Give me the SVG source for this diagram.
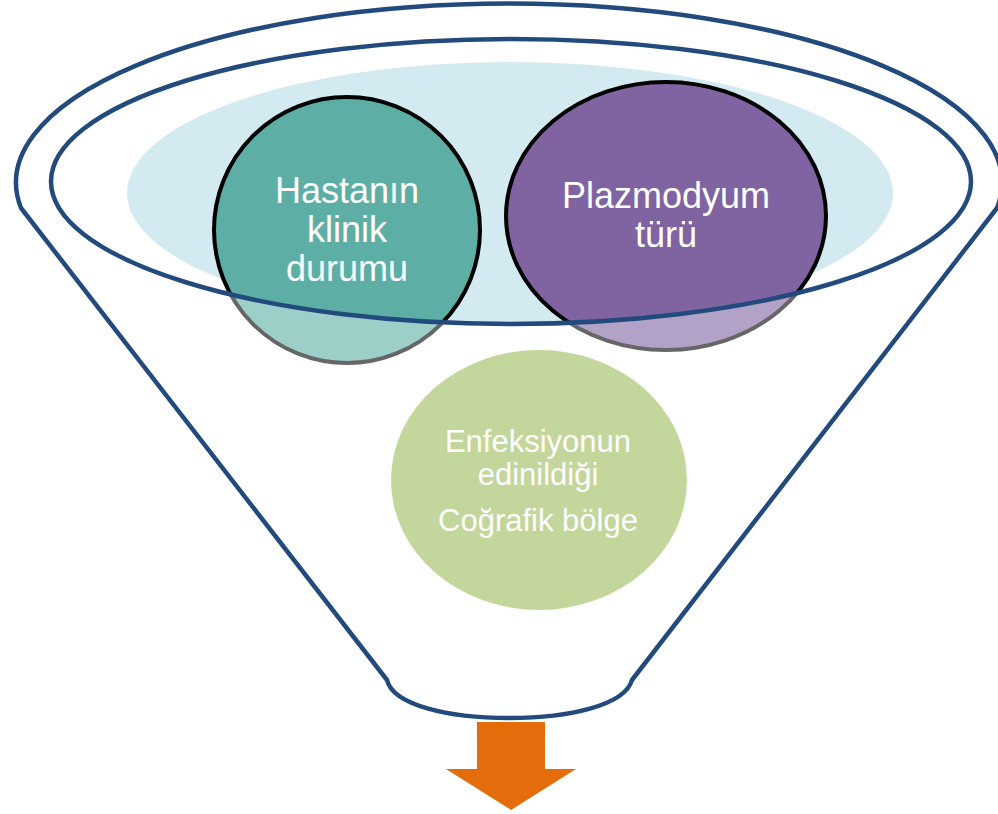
<svg xmlns="http://www.w3.org/2000/svg" width="998" height="814" viewBox="0 0 998 814">
  <style>
    .lbl { font-family: "Liberation Sans", Arial, sans-serif; fill: #FFFFFF; text-anchor: middle; }
    .big { font-size: 36px; }
    .small { font-size: 31px; }
    .funnel { fill: none; stroke: #234A7C; stroke-width: 4.5; stroke-linejoin: round; }
    .circ { stroke: #000000; stroke-width: 4; }
  </style>
  <rect x="0" y="0" width="998" height="814" fill="#FFFFFF"/>
  <g id="top-disc">
    <ellipse cx="510" cy="193" rx="383" ry="131" fill="#D4EAF1"/>
  </g>
  <g id="node-hastanin">
    <circle class="circ" cx="347" cy="230" r="133" fill="#5DAFA6"/>
    <text class="lbl big" x="347" y="203">Hastanın</text>
    <text class="lbl big" x="347" y="242">klinik</text>
    <text class="lbl big" x="347" y="281">durumu</text>
  </g>
  <g id="node-plazmodyum">
    <ellipse class="circ" cx="666" cy="216" rx="160" ry="134" fill="#8064A2"/>
    <text class="lbl big" x="666" y="208">Plazmodyum</text>
    <text class="lbl big" x="666" y="247">türü</text>
  </g>
  <g id="funnel-body">
    <path fill="#FFFFFF" fill-opacity="0.4" fill-rule="evenodd"
      d="M 21,208 A 493 179 0 1 1 997,208 L 632,680 C 625,705 570,718 509,718 C 448,718 393,705 387,680 Z
         M 51,181.5 A 460 142.5 0 1 0 971,181.5 A 460 142.5 0 1 0 51,181.5 Z"/>
    <ellipse class="funnel" cx="511" cy="181.5" rx="460" ry="142.5"/>
  </g>
  <g id="node-enfeksiyon">
    <ellipse cx="539" cy="480" rx="148" ry="130" fill="#C3D69B"/>
    <text class="lbl small" x="538" y="452">Enfeksiyonun</text>
    <text class="lbl small" x="538" y="485">edinildiği</text>
    <text class="lbl small" x="538" y="531">Coğrafik bölge</text>
  </g>
  <g id="funnel-outline">
    <path class="funnel" d="M 21,208 A 493 179 0 1 1 997,208 L 632,680 C 625,705 570,718 509,718 C 448,718 393,705 387,680 Z"/>
  </g>
  <g id="connectors">
    <path d="M 477,722 L 545,722 L 545,769 L 576,769 L 511,810 L 446,769 L 477,769 Z" fill="#E46C0A"/>
  </g>
</svg>
